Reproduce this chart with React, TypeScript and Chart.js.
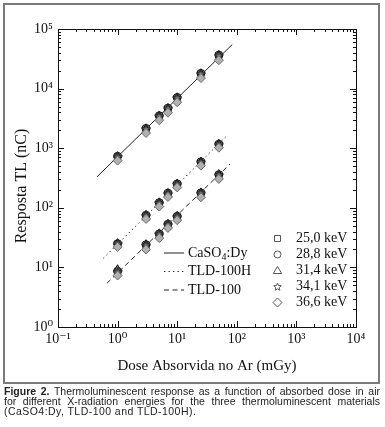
import React, { useEffect, useRef } from 'react';
import { Chart, registerables } from 'chart.js';

Chart.register(...registerables);

// ---------- data ----------
const doses = [1, 3, 5, 7, 10, 25, 50];
const energyLabels = ['25,0 keV', '28,8 keV', '31,4 keV', '34,1 keV', '36,6 keV'];

// CaSO4:Dy
const caso4_250 = [700, 2050, 3350, 4500, 6800, 17000, 35000];
const caso4_288 = [730, 2150, 3500, 4700, 7100, 18000, 36500];
const caso4_314 = [750, 2200, 3600, 4800, 7300, 18500, 37500];
const caso4_341 = [720, 2100, 3450, 4650, 7000, 17800, 36000];
const caso4_366 = [620, 1800, 2950, 3950, 5900, 15000, 30000];

// TLD-100H
const tld100h_250 = [24, 72, 118, 170, 245, 570, 1130];
const tld100h_288 = [25, 75, 122, 176, 252, 590, 1170];
const tld100h_314 = [26, 78, 126, 180, 260, 610, 1210];
const tld100h_341 = [25, 74, 120, 174, 250, 585, 1160];
const tld100h_366 = [22, 65, 105, 152, 220, 510, 1020];

// TLD-100
const tld100_250 = [8.3, 23, 35, 51, 69, 170, 345];
const tld100_288 = [8.6, 24, 36.5, 53, 72, 178, 360];
const tld100_314 = [9.5, 25, 38, 55, 75, 185, 375];
const tld100_341 = [8.5, 23.5, 36, 52, 71, 175, 355];
const tld100_366 = [7.3, 20, 31, 46, 62, 150, 305];

// fitted lines (end points)
const fitCaSO4X = [0.45, 84];
const fitCaSO4Y = [330, 55000];
const fitTLD100HX = [0.575, 70];
const fitTLD100HY = [14.2, 1660];
const fitTLD100X = [0.66, 77];
const fitTLD100Y = [5.4, 543];

const materialLabels = ['CaSO4:Dy', 'TLD-100H', 'TLD-100'];

const xTickValues = [0.1, 1, 10, 100, 1000, 10000];
const xTickLabels = ['10⁻¹', '10⁰', '10¹', '10²', '10³', '10⁴'];
const yTickValues = [1, 10, 100, 1000, 10000, 100000];
const yTickLabels = ['10⁰', '10¹', '10²', '10³', '10⁴', '10⁵'];

const SERIF = "'Liberation Serif', 'Times New Roman', 'DejaVu Serif', serif";

function makeStar(size: number, fill: string | null, stroke: string) {
  const c = document.createElement('canvas');
  c.width = size;
  c.height = size;
  const ctx = c.getContext('2d')!;
  const cx = size / 2, cy = size / 2 + 0.5;
  ctx.beginPath();
  for (let i = 0; i < 10; i++) {
    const r = i % 2 ? size * 0.2 : size * 0.47;
    const a = -Math.PI / 2 + (i * Math.PI) / 5;
    const px = cx + r * Math.cos(a), py = cy + r * Math.sin(a);
    if (i === 0) ctx.moveTo(px, py); else ctx.lineTo(px, py);
  }
  ctx.closePath();
  if (fill) { ctx.fillStyle = fill; ctx.fill(); }
  ctx.strokeStyle = stroke;
  ctx.lineWidth = 1;
  ctx.stroke();
  return c;
}

const dashStyles: number[][] = [[], [1.3, 3.2], [5, 3.5]];

export default function App() {
  const ref = useRef<HTMLCanvasElement | null>(null);

  useEffect(() => {
    const canvas = ref.current!;
    const starData = makeStar(10, '#7a7a7a', '#222');

    const styles: any[] = ['rect', 'circle', 'triangle', starData, 'rectRot'];
    const seriesByMaterial = [
      [caso4_250, caso4_288, caso4_314, caso4_341, caso4_366],
      [tld100h_250, tld100h_288, tld100h_314, tld100h_341, tld100h_366],
      [tld100_250, tld100_288, tld100_314, tld100_341, tld100_366],
    ];
    const datasets: any[] = [];
    seriesByMaterial.forEach((group, mi) => {
      group.forEach((vals, ei) => {
        const isDiamond = ei === 4;
        datasets.push({
          label: materialLabels[mi] + ' ' + energyLabels[ei],
          data: doses.map((d, i) => ({ x: d, y: vals[i] })),
          pointStyle: styles[ei],
          pointRadius: isDiamond ? 4.5 : 4,
          pointBackgroundColor: isDiamond ? '#b0b0b0' : '#7a7a7a',
          pointBorderColor: isDiamond ? '#6a6a6a' : '#1a1a1a',
          pointBorderWidth: 1,
          showLine: false,
          order: 4 - ei,
        });
      });
    });
    const fits = [
      [fitCaSO4X, fitCaSO4Y],
      [fitTLD100HX, fitTLD100HY],
      [fitTLD100X, fitTLD100Y],
    ];
    fits.forEach(([fx, fy], mi) => {
      datasets.push({
        label: materialLabels[mi],
        data: fx.map((x, i) => ({ x, y: fy[i] })),
        showLine: true,
        pointRadius: 0,
        borderColor: '#222',
        borderWidth: 1,
        borderDash: dashStyles[mi],
        order: 10,
      });
    });

    const framePlugin = {
      id: 'frameTicks',
      afterDraw(chart: any) {
        const ctx = chart.ctx;
        const { left, right, top, bottom } = chart.chartArea;
        const xs = chart.scales.x, ys = chart.scales.y;
        ctx.save();
        ctx.strokeStyle = '#111';
        ctx.lineWidth = 1;
        ctx.strokeRect(Math.round(left) + 0.5, Math.round(top) + 0.5, Math.round(right - left), Math.round(bottom - top));
        ctx.beginPath();
        for (let e = -1; e <= 4; e++) {
          for (let k = 1; k <= 9; k++) {
            const v = k * Math.pow(10, e);
            if (v > 10000 * 1.0001) break;
            const px = Math.round(xs.getPixelForValue(v)) + 0.5;
            const len = k === 1 ? 6 : 3;
            ctx.moveTo(px, bottom); ctx.lineTo(px, bottom - len);
            ctx.moveTo(px, top); ctx.lineTo(px, top + len);
          }
        }
        for (let e = 0; e <= 5; e++) {
          for (let k = 1; k <= 9; k++) {
            const v = k * Math.pow(10, e);
            if (v > 100000 * 1.0001) break;
            const py = Math.round(ys.getPixelForValue(v)) + 0.5;
            const len = k === 1 ? 6 : 3;
            ctx.moveTo(left, py); ctx.lineTo(left + len, py);
            ctx.moveTo(right, py); ctx.lineTo(right - len, py);
          }
        }
        ctx.stroke();

        // material legend (lines)
        const lx0 = 164, lx1 = 184;
        const lys = [253, 271.5, 290];
        ctx.fillStyle = '#111';
        ctx.textBaseline = 'middle';
        materialLabels.forEach((lab, i) => {
          ctx.beginPath();
          ctx.setLineDash(dashStyles[i]);
          ctx.strokeStyle = '#222';
          ctx.moveTo(lx0, lys[i]);
          ctx.lineTo(lx1, lys[i]);
          ctx.stroke();
          ctx.setLineDash([]);
          ctx.font = `14px ${SERIF}`;
          let tx = 188;
          const m = lab.match(/^(CaSO)(4)(:Dy)$/);
          if (m) {
            ctx.fillText(m[1], tx, lys[i]);
            tx += ctx.measureText(m[1]).width;
            ctx.font = `10px ${SERIF}`;
            ctx.fillText(m[2], tx, lys[i] + 4);
            tx += ctx.measureText(m[2]).width;
            ctx.font = `14px ${SERIF}`;
            ctx.fillText(m[3], tx, lys[i]);
          } else {
            ctx.fillText(lab, tx, lys[i]);
          }
        });

        // energy legend (markers)
        const mx = 277.5, tx2 = 296;
        const eys = [238.5, 254.5, 270.5, 286.5, 302.5];
        ctx.strokeStyle = '#555';
        ctx.lineWidth = 1;
        eys.forEach((y, i) => {
          ctx.beginPath();
          if (i === 0) {
            ctx.rect(mx - 3, y - 3, 6, 6);
          } else if (i === 1) {
            ctx.arc(mx, y, 3.5, 0, Math.PI * 2);
          } else if (i === 2) {
            ctx.moveTo(mx, y - 4);
            ctx.lineTo(mx + 4.2, y + 3);
            ctx.lineTo(mx - 4.2, y + 3);
            ctx.closePath();
          } else if (i === 3) {
            for (let j = 0; j < 10; j++) {
              const r = j % 2 ? 1.8 : 4;
              const a = -Math.PI / 2 + (j * Math.PI) / 5;
              const px = mx + r * Math.cos(a), py = y + 0.5 + r * Math.sin(a);
              if (j === 0) ctx.moveTo(px, py); else ctx.lineTo(px, py);
            }
            ctx.closePath();
          } else {
            ctx.moveTo(mx, y - 4.5);
            ctx.lineTo(mx + 4.5, y);
            ctx.lineTo(mx, y + 4.5);
            ctx.lineTo(mx - 4.5, y);
            ctx.closePath();
          }
          ctx.stroke();
          ctx.font = `14px ${SERIF}`;
          ctx.fillStyle = '#111';
          ctx.fillText(energyLabels[i], tx2, y);
        });
        ctx.restore();
      },
    };

    const chart = new Chart(canvas, {
      type: 'scatter',
      data: { datasets },
      options: {
        animation: false,
        responsive: false,
        devicePixelRatio: 1,
        layout: { padding: { left: 0, top: 29, right: 29, bottom: 0 } },
        plugins: { legend: { display: false }, tooltip: { enabled: false } },
        scales: {
          x: {
            type: 'logarithmic',
            min: 0.1,
            max: 10000,
            afterBuildTicks: (s: any) => { s.ticks = xTickValues.map((v) => ({ value: v })); },
            afterFit: (s: any) => { s.height = 56; },
            grid: { display: false, drawTicks: false },
            border: { display: false },
            ticks: {
              autoSkip: false,
              maxRotation: 0,
              padding: 4,
              color: '#111',
              font: { family: SERIF, size: 14 },
              callback: (v: any) => {
                const i = xTickValues.findIndex((t) => Math.abs(t - v) / t < 1e-6);
                return i >= 0 ? xTickLabels[i] : '';
              },
            },
            title: {
              display: true,
              text: 'Dose Absorvida no Ar (mGy)',
              color: '#111',
              font: { family: SERIF, size: 15 },
              padding: { top: 0, bottom: 8 },
            },
          },
          y: {
            type: 'logarithmic',
            min: 1,
            max: 100000,
            afterBuildTicks: (s: any) => { s.ticks = yTickValues.map((v) => ({ value: v })); },
            afterFit: (s: any) => { s.width = 58; },
            grid: { display: false, drawTicks: false },
            border: { display: false },
            ticks: {
              autoSkip: false,
              padding: 5,
              color: '#111',
              font: { family: SERIF, size: 14 },
              callback: (v: any) => {
                const i = yTickValues.findIndex((t) => Math.abs(t - v) / t < 1e-6);
                return i >= 0 ? yTickLabels[i] : '';
              },
            },
            title: {
              display: true,
              text: 'Resposta TL (nC)\u2002\u2002',
              color: '#111',
              font: { family: SERIF, size: 16 },
              padding: { top: 12, bottom: 0 },
            },
          },
        },
      },
      plugins: [framePlugin],
    });
    return () => chart.destroy();
  }, []);

  const capLine: React.CSSProperties = {
    textAlign: 'justify',
    textAlignLast: 'justify' as any,
    whiteSpace: 'nowrap',
    height: 10,
  };

  return (
    <div style={{ position: 'absolute', left: 0, top: 0, width: 385, height: 427, background: '#fff' }}>
      <canvas ref={ref} width={385} height={383} style={{ position: 'absolute', left: 0, top: 0, width: 385, height: 383 }} />
      <div
        style={{
          position: 'absolute',
          left: 3,
          top: 3,
          width: 373,
          height: 377,
          border: '2px solid #7a7a7a',
          pointerEvents: 'none',
        }}
      />
      <div
        style={{
          position: 'absolute',
          left: 4,
          top: 386,
          width: 376,
          fontFamily: "'Liberation Sans', Arial, sans-serif",
          fontSize: 10.5,
          lineHeight: '10px',
          color: '#222',
        }}
      >
        <div style={capLine}>
          <b>Figure 2.</b> Thermoluminescent response as a function of absorbed dose in air
        </div>
        <div style={capLine}>for different X-radiation energies for the three thermoluminescent materials</div>
        <div style={{ whiteSpace: 'nowrap', height: 10, letterSpacing: '0.45px' }}>(CaSO4:Dy, TLD-100 and TLD-100H).</div>
      </div>
    </div>
  );
}
